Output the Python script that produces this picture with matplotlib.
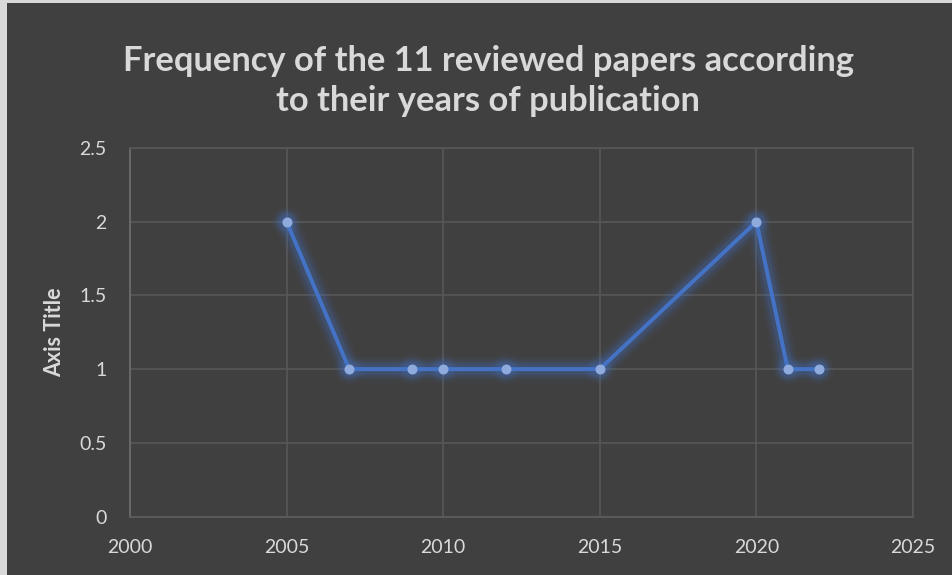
import matplotlib.pyplot as plt
import matplotlib.patches as patches
import numpy as np

# data
years = [2005, 2007, 2009, 2010, 2012, 2015, 2020, 2021, 2022]
counts = [2, 1, 1, 1, 1, 1, 2, 1, 1]
xticks = [2000, 2005, 2010, 2015, 2020, 2025]
yticks = [0, 0.5, 1, 1.5, 2, 2.5]
ytick_labels = ['0', '0.5', '1', '1.5', '2', '2.5']

bg = '#404040'
grid = '#575757'
txt = '#d9d9d9'
blue = '#4472c4'

plt.rcParams['font.family'] = ['Lato', 'DejaVu Sans']

fig = plt.figure(figsize=(9.52, 5.75), dpi=100)
fig.patch.set_facecolor(bg)
# light strips at left and top edge like the source
fig.patches.append(patches.Rectangle((0, 0), 7 / 952, 1, transform=fig.transFigure,
                                     facecolor='#d9d9d9', edgecolor='none'))
fig.patches.append(patches.Rectangle((0, 1 - 3 / 575), 1, 3 / 575, transform=fig.transFigure,
                                     facecolor='#d9d9d9', edgecolor='none'))

ax = fig.add_axes([130 / 952, 1 - 516.5 / 575, (913 - 130) / 952, (516.5 - 148) / 575])
ax.set_facecolor(bg)
ax.set_xlim(2000, 2025)
ax.set_ylim(0, 2.5)
ax.set_xticks(xticks)
ax.set_yticks(yticks)
ax.set_yticklabels(ytick_labels)
ax.grid(True, color=grid, linewidth=1.2)
ax.set_axisbelow(True)
for s in ['top', 'right']:
    ax.spines[s].set_color(grid)
    ax.spines[s].set_linewidth(1.2)
ax.spines['left'].set_color('#6e6e6e')
ax.spines['bottom'].set_color('#5e5e5e')
ax.spines['left'].set_linewidth(1.2)
ax.spines['bottom'].set_linewidth(1.2)
ax.tick_params(axis='y', length=0, colors=txt, labelsize=14, pad=17)
ax.tick_params(axis='x', length=0, colors=txt, labelsize=14, pad=16)

# glow
for w, a in [(18, 0.05), (14, 0.08), (11, 0.11), (8, 0.16)]:
    ax.plot(years, counts, color=blue, linewidth=w, alpha=a, solid_capstyle='round',
            solid_joinstyle='round')
    ax.scatter(years, counts, s=(w + 4) ** 2, color=blue, alpha=a * 0.9, edgecolors='none')
ax.plot(years, counts, color=blue, linewidth=2.9, solid_joinstyle='round')
ax.plot(years, counts, linestyle='none', marker='o', markersize=6.2,
        markerfacecolor='#8faadc', markeredgecolor='#8faadc')

ax.set_ylabel('Axis Title', color=txt, fontsize=15.5, fontweight='bold')
ax.yaxis.set_label_coords((55 - 130) / 783, 0.5)
ax.yaxis.label.set_va('center')

fig.text(0.513, 1 - 81 / 575,
         'Frequency of the 11 reviewed papers according\nto their years of publication',
         ha='center', va='center', color=txt, fontsize=24.8, fontweight='bold',
         linespacing=1.33)

fig.savefig('out.png', dpi=100, facecolor=fig.get_facecolor())
